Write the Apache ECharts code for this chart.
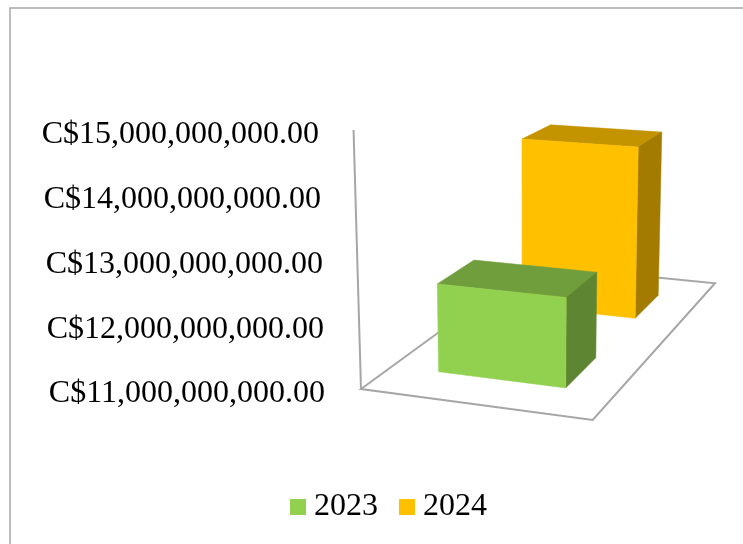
<!DOCTYPE html>
<html><head><meta charset="utf-8">
<style>html,body{margin:0;padding:0;background:#fff}#c{width:743px;height:544px}</style>
<script src="https://cdn.jsdelivr.net/npm/echarts@6/dist/echarts.min.js"></script>
</head><body><div id="c"></div>
<script>
const seriesNames = ['2023', '2024'];
const values2023 = [12400000000];
const values2024 = [14030000000];
const tickLabels = ['C$11,000,000,000.00','C$12,000,000,000.00','C$13,000,000,000.00','C$14,000,000,000.00','C$15,000,000,000.00'];
const faceColors = {
  '2023': {front:'#92D050', top:'#709E3D', side:'#5E8532'},
  '2024': {front:'#FFC000', top:'#C49300', side:'#A37B00'}
};
const axisMin = 11000000000, axisMax = 15000000000, axisStep = 1000000000;
const FONT = '"Liberation Serif","Times New Roman",serif';

// perspective floor: s runs along the front edge, t runs along the depth (series) edge
const H = {a:200.03,b:326.5,c:361,d:8.55,e:-45.9,f:389,g:-0.05344,h:0.29477};
function floorPt(s,t){
  const w = H.g*s + H.h*t + 1;
  return [(H.a*s + H.b*t + H.c)/w, (H.d*s + H.e*t + H.f)/w];
}
function project(api,s,t,v){
  const base = floorPt(s,t);
  const y0 = api.coord([0,axisMin])[1], yv = api.coord([0,v])[1];
  const lift = (y0 - yv) * (1 + 0.0018*(base[1]-y0));
  const tilt = (base[0]-530)*0.00017;
  return [base[0] + tilt*lift, base[1] - lift];
}
function face(pts,color){
  return {type:'polygon',shape:{points:pts},style:{fill:color,stroke:color,lineWidth:0.5}};
}
const S0 = 0.215, S1 = 0.785, DEPTH = 0.2;
function barItem(idx){
  const colors = faceColors[seriesNames[idx]];
  const tc = (idx+0.5)/seriesNames.length;
  const t0 = tc-DEPTH/2, t1 = tc+DEPTH/2;
  return function(params,api){
    const v = api.value(1);
    const P = (s,t,val)=>project(api,s,t,val);
    return {type:'group',children:[
      face([P(S0,t1,v),P(S1,t1,v),P(S1,t0,v),P(S0,t0,v)],colors.top),
      face([P(S1,t0,axisMin),P(S1,t1,axisMin),P(S1,t1,v),P(S1,t0,v)],colors.side),
      face([P(S0,t0,axisMin),P(S1,t0,axisMin),P(S1,t0,v),P(S0,t0,v)],colors.front)
    ]};
  };
}
function frameItem(params,api){
  const line = pts=>({type:'polyline',shape:{points:pts},style:{fill:null,stroke:'#A6A6A6',lineWidth:2}});
  return {type:'group',children:[
    line([floorPt(0,1),floorPt(1,1),floorPt(1,0),floorPt(0,0),floorPt(0,1)]),
    line([project(api,0,0,axisMin),project(api,0,0,axisMax)])
  ]};
}
const rightShift = [2,3,4,6,8];
const rich = {};
rightShift.forEach((r,i)=>{
  rich['t'+i] = {fontFamily:FONT,fontSize:32,color:'#000',padding:[10,r,0,0]};
});
const chart = echarts.init(document.getElementById('c'),null,{renderer:'canvas'});
chart.setOption({
  animation:false,
  backgroundColor:'#fff',
  graphic:[{type:'rect',shape:{x:10,y:8,width:760,height:560},style:{fill:null,stroke:'#A6A6A6',lineWidth:1.5},silent:true}],
  legend:{
    data:seriesNames,left:285,top:486,icon:'rect',itemWidth:16,itemHeight:16,itemGap:21,
    textStyle:{fontFamily:FONT,fontSize:32,color:'#000',padding:[0,0,0,3]}
  },
  grid:{left:361,top:130,width:354,height:259,containLabel:false},
  xAxis:{type:'category',data:[''],show:false},
  yAxis:{
    type:'value',min:axisMin,max:axisMax,interval:axisStep,
    axisLine:{show:false},axisTick:{show:false},splitLine:{show:false},
    axisLabel:{margin:34,formatter:(v,i)=>'{t'+i+'|'+tickLabels[i]+'}',rich:rich}
  },
  series:[
    {type:'custom',name:'frame',z:1,silent:true,clip:false,renderItem:frameItem,data:[[0,axisMin]],encode:{x:0,y:1}},
    {type:'custom',name:seriesNames[0],z:3,clip:false,renderItem:barItem(0),
      itemStyle:{color:faceColors['2023'].front},data:values2023.map(v=>[0,v]),encode:{x:0,y:1}},
    {type:'custom',name:seriesNames[1],z:2,clip:false,renderItem:barItem(1),
      itemStyle:{color:faceColors['2024'].front},data:values2024.map(v=>[0,v]),encode:{x:0,y:1}}
  ]
});
</script></body></html>
